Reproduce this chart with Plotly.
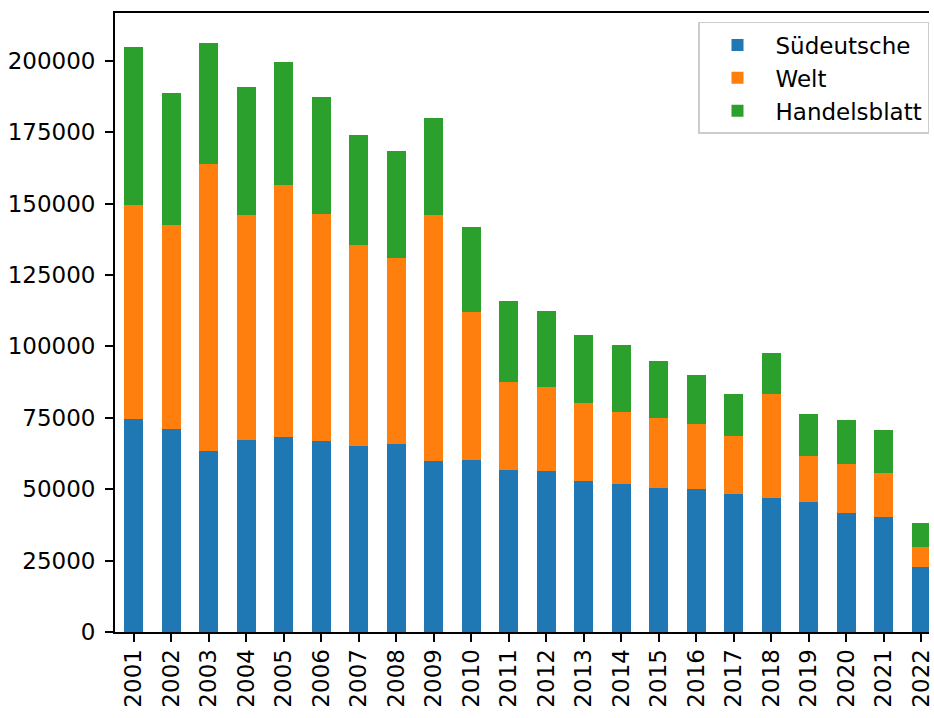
import plotly.graph_objects as go

years = [str(y) for y in range(2001, 2023)]
sueddeutsche = [74600, 71100, 63400, 67300, 68300, 66900, 65100, 65800, 59900, 60200,
                56700, 56400, 52900, 51800, 50400, 50100, 48300, 46900, 45500, 41700,
                40300, 22800]
welt_top = [149600, 142600, 163900, 146100, 156600, 146400, 135600, 131000, 146100, 112100,
            87600, 85800, 80200, 77100, 75000, 72900, 68700, 83400, 61600, 58800,
            55700, 29800]
total_top = [204900, 188800, 206300, 190900, 199600, 187400, 174100, 168500, 180000, 141900,
             115900, 112400, 104000, 100500, 94900, 90000, 83400, 97700, 76400, 74300,
             70800, 38200]
welt = [w - s for w, s in zip(welt_top, sueddeutsche)]
handelsblatt = [t - w for t, w in zip(total_top, welt_top)]

series_names = ["Südeutsche", "Welt", "Handelsblatt"]
series_values = [sueddeutsche, welt, handelsblatt]
colors = ["#1f77b4", "#ff7f0e", "#2ca02c"]

fig = go.Figure()
xs = list(range(len(years)))
for i, (name, vals, c) in enumerate(zip(series_names, series_values, colors)):
    fig.add_trace(go.Bar(x=xs, y=vals, name=name, marker=dict(color=c, line=dict(width=0)),
                         width=0.5, legendgroup=f"g{i}"))

fig.update_layout(
    barmode="stack",
    width=934, height=718,
    margin=dict(l=115, r=0, t=13, b=86),
    paper_bgcolor="white", plot_bgcolor="white",
    font=dict(family="DejaVu Sans", size=23, color="black"),
    showlegend=True,
    legend=dict(x=1.0, y=0.9855, xanchor="right", yanchor="top",
                bgcolor="rgba(255,255,255,0.8)", bordercolor="#cccccc", borderwidth=1.5,
                font=dict(size=23), tracegroupgap=4, traceorder="normal",
                itemwidth=66),
    bargap=0,
)
fig.update_xaxes(
    range=[-0.5, 21.206], tickmode="array", tickvals=xs, ticktext=years,
    tickangle=-90, ticks="outside", ticklen=8, tickwidth=1.6, tickcolor="black",
    ticklabeloverflow="allow", ticklabelstandoff=-2,
    showline=True, linecolor="black", linewidth=1.8, mirror=True,
    showgrid=False, zeroline=False,
)
fig.update_yaxes(
    range=[0, 216700], tickmode="linear", tick0=0, dtick=25000, tickformat="d",
    ticks="outside", ticklen=8, tickwidth=1.6, tickcolor="black",
    ticklabelstandoff=5,
    showline=True, linecolor="black", linewidth=1.8, mirror=False,
    showgrid=False, zeroline=False,
)
fig.add_annotation(text="Year", xref="paper", yref="paper", x=0.506, y=-0.129,
                   xanchor="center", yanchor="top", showarrow=False,
                   font=dict(size=23, family="DejaVu Sans"))

fig.write_html("out.html", config={"displayModeBar": False},
               post_script="document.body.style.margin='0';document.body.style.overflow='hidden';")
